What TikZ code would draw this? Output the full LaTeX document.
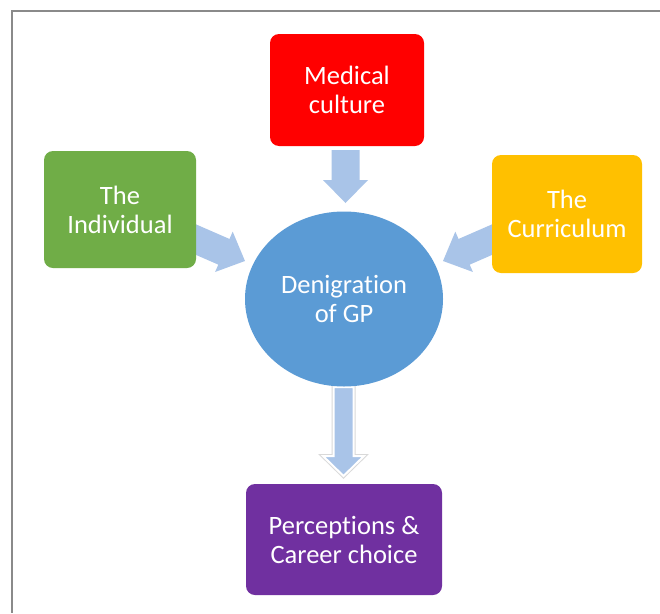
\documentclass[tikz,border=0pt]{standalone}
\usepackage{fontspec}
\setmainfont{Carlito}[Ligatures=NoCommon]
\usetikzlibrary{shapes.geometric,calc,backgrounds}

\definecolor{medred}{HTML}{FF0000}
\definecolor{indgreen}{HTML}{70AD47}
\definecolor{curgold}{HTML}{FFC000}
\definecolor{denblue}{HTML}{5B9BD5}
\definecolor{perpurple}{HTML}{7030A0}
\definecolor{flowblue}{HTML}{A9C4E8}
\definecolor{framegray}{HTML}{8A8A8A}

% Block arrow from #2 to #3: shaft half width #4, head half width #5, head length #6
\newcommand\blockarrowpath[6][]{%
  \path[#1] let \p1=($(#3)-(#2)$), \n1={atan2(\y1,\x1)}, \n2={veclen(\x1,\y1)} in
    [shift={(#2)}, rotate=\n1]
    (0pt,#4pt) -- ({\n2-#6pt},#4pt) -- ({\n2-#6pt},#5pt) -- ({\n2+0pt},0pt)
    -- ({\n2-#6pt},-#5pt) -- ({\n2-#6pt},-#4pt) -- (0pt,-#4pt) -- cycle;}

\tikzset{
  boxtext/.style={text=white, align=center, font=\fontsize{26.5}{29}\selectfont},
  factorbox/.style={boxtext, rectangle, rounded corners=9pt, inner sep=0pt},
  corecircle/.style={boxtext, ellipse, fill=denblue, inner sep=0pt,
    minimum width=198pt, minimum height=175pt},
  inflow/.style={fill=flowblue},
  outflow/.style={preaction={draw=black!15, line width=4pt}, draw=white,
    line width=2pt, fill=flowblue},
  frameline/.style={draw=framegray, line width=2pt},
}

\begin{document}
\begin{tikzpicture}[x=1pt, y=-1pt]
  \useasboundingbox (0,0) rectangle (660,613);

  % factors, central idea and outcome
  \node[factorbox, fill=medred, minimum width=154pt, minimum height=112pt]
    (med) at (347,90) {Medical\\culture};
  \node[factorbox, fill=indgreen, minimum width=152pt, minimum height=117pt]
    (ind) at (120,209.5) {The\\Individual};
  \node[factorbox, fill=curgold, minimum width=150pt, minimum height=118pt]
    (cur) at (567,214) {The\\Curriculum};
  \node[corecircle] (den) at (344,299) {Denigration\\of GP};
  \node[factorbox, fill=perpurple, minimum width=196pt, minimum height=111pt]
    (per) at (344,539.5) {Perceptions \&\\Career choice};

  % arrow ends
  \coordinate (medTail) at (345.5,150);
  \coordinate (medTip)  at (345.5,203);
  \coordinate (indTail) at (182.6,233.8);
  \coordinate (indTip)  at (245,261);
  \coordinate (curTail) at (505.4,233.8);
  \coordinate (curTip)  at (443,261);
  \coordinate (denTail) at (343.5,387);
  \coordinate (perTip)  at (343.5,476);

  \begin{scope}[on background layer]
    \fill[white] (0,0) rectangle (660,613);
    \draw[frameline] (660,11) -- (12,11) -- (12,613);
    \blockarrowpath[inflow]{medTail}{medTip}{14}{22.5}{23}
    \blockarrowpath[inflow]{indTail}{indTip}{14}{22}{23}
    \blockarrowpath[inflow]{curTail}{curTip}{14}{22}{23}
    \blockarrowpath[outflow]{denTail}{perTip}{10}{20.5}{20}
  \end{scope}
\end{tikzpicture}
\end{document}
